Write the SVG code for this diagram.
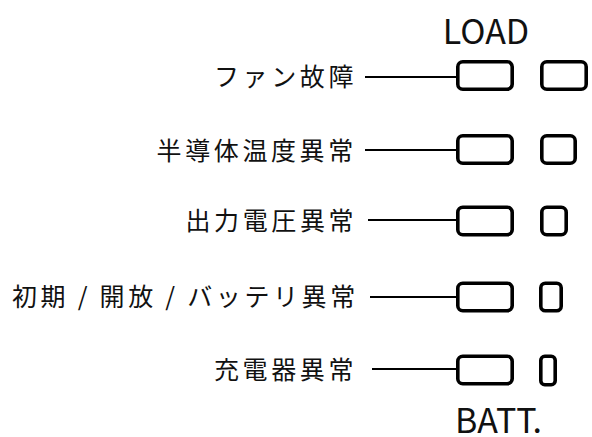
<svg xmlns="http://www.w3.org/2000/svg" width="592" height="437" viewBox="0 0 592 437">
<style>
.lbl{font-family:"Noto Sans CJK JP","Noto Sans",sans-serif;font-size:25px;letter-spacing:3.6px;fill:#111}
.ttl{font-family:"Noto Sans CJK JP","Noto Sans",sans-serif;font-size:34px;fill:#111}
.box{fill:#fff;stroke:#000;stroke-width:3.6}
.wire{stroke:#000;stroke-width:1.8;fill:none}
</style>
<rect width="592" height="437" fill="#fff"/>
<g id="title-load"><text class="ttl" x="486" y="44" text-anchor="middle">LOAD</text></g>
<g id="title-batt"><text class="ttl" x="455" y="433">BATT.</text></g>

<g id="label-fan"><text class="lbl" x="214" y="86">ファン故障</text></g>
<g id="label-semi"><text class="lbl" x="156.6" y="160">半導体温度異常</text></g>
<g id="label-volt"><text class="lbl" x="185.5" y="230">出力電圧異常</text></g>
<g id="label-batt"><text class="lbl" x="12" y="306">初期<tspan dx="8.5">/</tspan><tspan dx="8.5">開放</tspan><tspan dx="8.5">/</tspan><tspan dx="8.5">バッテリ異常</tspan></text></g>
<g id="label-chg"><text class="lbl" x="214" y="379">充電器異常</text></g>

<g id="connectors">
<line class="wire" x1="365" y1="77" x2="482" y2="77"/>
<line class="wire" x1="365" y1="150" x2="482" y2="150"/>
<line class="wire" x1="368" y1="220" x2="484" y2="220"/>
<line class="wire" x1="370" y1="297" x2="486" y2="297"/>
<line class="wire" x1="372" y1="369" x2="486" y2="369"/>
</g>

<g id="led-fan"><rect class="box" x="457.8" y="61.8" width="54.4" height="27.4" rx="5"/></g>
<g id="led-semi"><rect class="box" x="457.8" y="135.8" width="54.4" height="27.4" rx="5"/></g>
<g id="led-volt"><rect class="box" x="457.8" y="207.3" width="54.4" height="27.4" rx="5"/></g>
<g id="led-batt"><rect class="box" x="457.8" y="283.3" width="54.4" height="27.4" rx="5"/></g>
<g id="led-chg"><rect class="box" x="457.8" y="356.3" width="54.4" height="27.4" rx="5"/></g>

<g id="bar-1"><rect class="box" x="541.8" y="61.8" width="44.4" height="27.4" rx="5"/></g>
<g id="bar-2"><rect class="box" x="541.8" y="135.8" width="33.4" height="27.4" rx="5"/></g>
<g id="bar-3"><rect class="box" x="541.8" y="207.3" width="24.4" height="27.4" rx="5"/></g>
<g id="bar-4"><rect class="box" x="540.8" y="283.3" width="20.4" height="27.4" rx="4.5"/></g>
<g id="bar-5"><rect class="box" x="540.8" y="356.3" width="14.4" height="28.4" rx="4"/></g>
</svg>
